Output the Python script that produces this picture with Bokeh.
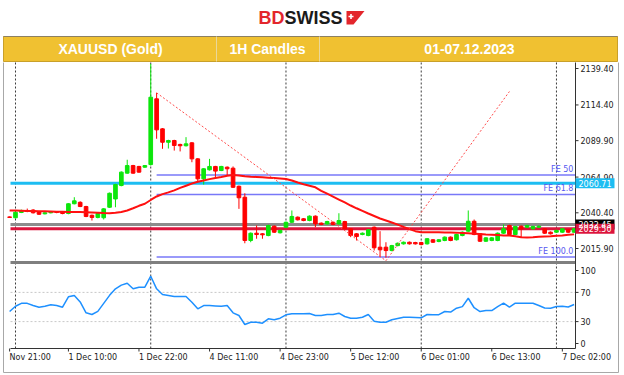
from bokeh.plotting import figure
from bokeh.models import Range1d
from bokeh.core.properties import value
from bokeh.embed import file_html
from bokeh.resources import INLINE

# ---------------- data (hourly bars, index 0 = 1 Dec 01:00) ----------------
bar_index = list(range(-1, 96))
open_ = [2037.6, 2037.0, 2040.6, 2042.0, 2042.3, 2041.0, 2039.7, 2040.4, 2040.8, 2040.9,
         2039.9, 2046.6, 2047.6, 2044.7, 2038.7, 2037.2, 2037.0, 2044.2, 2049.9, 2059.1,
         2067.6, 2072.8, 2072.2, 2071.7, 2073.5, 2118.6, 2098.0, 2088.8, 2090.0, 2087.3,
         2086.4, 2088.4, 2077.4, 2063.7, 2069.9, 2072.2, 2069.4, 2071.7, 2071.0, 2058.6,
         2051.1, 2021.4, 2026.4, 2026.0, 2024.8, 2031.2, 2026.7, 2030.5, 2033.9, 2037.4,
         2036.3, 2035.1, 2038.1, 2033.3, 2032.8, 2033.9, 2032.8, 2034.4, 2029.4, 2026.0,
         2025.5, 2024.8, 2030.5, 2016.8, 2016.8, 2014.5, 2017.9, 2019.1, 2020.2, 2020.0,
         2020.0, 2019.1, 2021.9, 2020.7, 2021.4, 2023.7, 2021.9, 2024.8, 2027.8, 2034.6,
         2026.0, 2020.9, 2021.4, 2021.4, 2026.4, 2031.7, 2025.5, 2031.2, 2030.5, 2029.4,
         2030.5, 2029.4, 2027.1, 2027.1, 2027.1, 2028.7, 2027.1]
high = [2037.9, 2041.3, 2042.6, 2043.3, 2042.9, 2041.5, 2040.9, 2041.4, 2041.3, 2041.4,
        2047.0, 2051.1, 2048.3, 2045.2, 2039.2, 2040.4, 2043.6, 2054.3, 2060.3, 2068.8,
        2076.8, 2073.3, 2072.6, 2073.2, 2142.5, 2122.7, 2098.5, 2090.5, 2090.5, 2087.8,
        2092.3, 2088.9, 2077.9, 2071.0, 2077.4, 2072.6, 2072.6, 2072.2, 2072.2, 2059.1,
        2053.8, 2026.9, 2031.7, 2026.4, 2032.2, 2031.7, 2028.8, 2034.4, 2042.0, 2037.9,
        2036.8, 2038.6, 2038.6, 2033.8, 2034.9, 2034.4, 2040.1, 2034.9, 2029.9, 2026.5,
        2026.9, 2029.2, 2031.0, 2027.8, 2020.2, 2018.4, 2020.0, 2020.7, 2020.7, 2020.5,
        2020.5, 2023.1, 2022.4, 2022.4, 2024.2, 2024.2, 2026.0, 2027.6, 2042.0, 2035.8,
        2026.5, 2023.7, 2023.7, 2026.9, 2032.4, 2032.2, 2031.5, 2031.7, 2032.2, 2031.5,
        2031.7, 2029.9, 2027.6, 2028.8, 2029.9, 2029.2, 2029.9]
low = [2036.9, 2036.5, 2040.2, 2040.8, 2039.9, 2038.9, 2039.3, 2040.0, 2040.1, 2039.4,
       2039.4, 2046.2, 2044.3, 2037.4, 2035.1, 2036.6, 2035.8, 2043.7, 2044.2, 2058.6,
       2067.2, 2067.2, 2067.9, 2071.3, 2072.8, 2091.2, 2084.3, 2084.5, 2083.1, 2082.5,
       2085.9, 2075.1, 2061.4, 2059.8, 2069.4, 2064.8, 2069.0, 2066.0, 2057.4, 2043.1,
       2019.5, 2020.2, 2022.6, 2022.6, 2024.3, 2026.6, 2026.2, 2030.0, 2033.4, 2035.1,
       2034.6, 2034.6, 2030.5, 2031.9, 2032.3, 2031.9, 2032.3, 2028.9, 2023.7, 2021.4,
       2025.0, 2024.3, 2014.5, 2010.0, 2009.6, 2014.0, 2017.4, 2018.6, 2018.6, 2018.6,
       2018.1, 2018.6, 2019.7, 2020.2, 2020.9, 2020.9, 2021.4, 2024.3, 2027.3, 2025.0,
       2020.4, 2020.4, 2020.9, 2020.9, 2025.9, 2025.0, 2025.0, 2023.7, 2030.0, 2028.9,
       2030.0, 2025.9, 2025.5, 2026.6, 2026.6, 2026.6, 2026.6]
close = [2037.2, 2040.8, 2042.0, 2041.3, 2040.4, 2039.4, 2040.4, 2040.9, 2040.6, 2039.9,
         2046.6, 2048.6, 2044.7, 2037.9, 2037.2, 2039.9, 2043.1, 2053.8, 2059.8, 2068.3,
         2072.8, 2067.6, 2068.3, 2072.8, 2119.7, 2097.3, 2088.8, 2090.0, 2086.6, 2086.4,
         2087.7, 2077.4, 2063.7, 2070.6, 2072.2, 2069.0, 2072.2, 2070.6, 2057.9, 2050.7,
         2021.4, 2026.4, 2025.5, 2025.3, 2031.7, 2027.1, 2028.3, 2033.9, 2037.9, 2035.6,
         2035.1, 2038.1, 2032.8, 2032.4, 2034.4, 2032.4, 2035.1, 2029.4, 2024.8, 2024.1,
         2026.4, 2028.7, 2016.4, 2015.0, 2014.5, 2017.9, 2019.5, 2020.2, 2019.1, 2019.1,
         2018.6, 2022.6, 2020.2, 2021.9, 2023.7, 2021.4, 2025.5, 2027.1, 2034.6, 2025.5,
         2020.9, 2023.2, 2023.2, 2026.4, 2029.4, 2025.5, 2031.0, 2029.4, 2031.7, 2031.0,
         2031.2, 2026.4, 2026.0, 2028.3, 2029.4, 2027.1, 2029.5]
moving_avg = [2042.0, 2041.9, 2041.8, 2041.7, 2041.6, 2041.5, 2041.4, 2041.3, 2041.2, 2041.1,
              2041.0, 2041.0, 2040.9, 2040.8, 2040.6, 2040.4, 2040.2, 2040.1, 2040.4, 2041.0,
              2042.0, 2043.5, 2045.2, 2046.6, 2049.2, 2051.6, 2053.2, 2054.4, 2055.8, 2057.5,
              2059.0, 2060.5, 2061.7, 2062.6, 2063.5, 2064.3, 2065.0, 2065.8, 2066.4, 2066.0,
              2065.5, 2065.2, 2065.0, 2064.8, 2064.5, 2064.2, 2063.9, 2063.6, 2062.6, 2061.2,
              2060.0, 2058.9, 2057.9, 2055.5, 2053.5, 2051.5, 2049.5, 2047.5, 2045.4, 2043.5,
              2041.7, 2039.9, 2038.2, 2036.5, 2035.1, 2033.7, 2032.3, 2030.7, 2029.2, 2027.8,
              2027.1, 2027.0, 2027.0, 2027.0, 2026.9, 2026.9, 2026.8, 2026.6, 2026.4, 2026.1,
              2025.8, 2025.5, 2025.3, 2025.1, 2024.9, 2024.8, 2024.3, 2023.6, 2023.4, 2023.6,
              2023.9, 2024.1, 2024.3, 2024.6, 2024.9, 2025.3, 2025.6]
rsi = [43.8, 51, 55, 55, 52, 49.7, 51, 53, 52, 49.7,
       64, 65.8, 57, 42, 39.7, 44, 55, 66, 74.9, 80,
       82.6, 75, 77.1, 77.1, 92.2, 74.9, 67.1, 65.8, 64.4, 64.4,
       64.4, 56.6, 47.5, 52, 52, 51.5, 51, 52, 42, 38.4,
       26, 29.2, 29.2, 27.8, 33.8, 32.5, 34.7, 39.3, 40.7, 40.7,
       40.7, 41, 38.4, 38.4, 39.7, 39.7, 41.5, 37, 34.7, 34.7,
       36, 39.7, 30.5, 29.2, 29.2, 32.5, 34.3, 36, 36, 35.6,
       35.2, 39.7, 39.3, 39.5, 43.8, 43, 48.4, 50.5, 62, 49,
       43.8, 45.2, 45.2, 50.5, 55.2, 49.7, 55.2, 55.2, 55.2, 55.2,
       52, 48.6, 48.4, 50.7, 51, 50, 53.4]

price_ticks = [2015.90, 2040.40, 2064.90, 2089.90, 2114.40, 2139.40]
rsi_ticks = [0, 30, 70, 100]
rsi_levels = [30, 70]
time_tick_index = [-1, 9, 21, 33, 45, 57, 69, 81, 93]
time_labels = ["Nov 21:00", "1 Dec 10:00", "1 Dec 22:00", "4 Dec 11:00", "4 Dec 23:00",
               "5 Dec 12:00", "6 Dec 01:00", "6 Dec 13:00", "7 Dec 02:00"]
day_starts = [0, 23, 46, 69, 92]

level_cyan = 2060.71
level_gray = 2032.45
level_red = 2029.50
level_support = 2006.3
fe_levels = [2066.3, 2053.0, 2010.0]
fe_names = ["FE 50", "FE 61.8", "FE 100.0"]
fe_start = 24
zigzag_index = [24, 63, 84]
zigzag_price = [2122.7, 2007.5, 2123.6]

header_texts = ["XAUUSD (Gold)", "1H Candles", "01-07.12.2023"]

# ---------------- page layout (pixels) ----------------
W, H = 624, 375
BAR0_PX, BAR_PX = 15.0, 5.88          # x of bar 0 and bar spacing
FRAME_L, FRAME_R = 10, 575            # chart area left/right
MAIN_TOP, MAIN_BOT = 62, 263
RSI_TOP, RSI_BOT = 265, 348
PRICE_ANCHOR, PRICE_ANCHOR_PX, PRICE_PX = 2139.4, 68.0, 1.4576
RSI_ANCHOR_PX, RSI_PX = 270.0, 0.73    # y of RSI 100, px per RSI unit

x_start = (0 - BAR0_PX) / BAR_PX
x_end = (W - BAR0_PX) / BAR_PX
x_left = (FRAME_L - BAR0_PX) / BAR_PX
x_right = (FRAME_R - BAR0_PX) / BAR_PX
price_top = PRICE_ANCHOR + PRICE_ANCHOR_PX / PRICE_PX
price_bot = PRICE_ANCHOR - (H - PRICE_ANCHOR_PX) / PRICE_PX
rsi_top = 100 + RSI_ANCHOR_PX / RSI_PX
rsi_bot = 100 - (H - RSI_ANCHOR_PX) / RSI_PX

GREEN = "#0CE60C"
RED = "#FF0000"
AXIS_FONT = value("DejaVu Sans")
AX_COLOR = "#333333"

p = figure(width=W, height=H, x_range=Range1d(x_start, x_end), y_range=Range1d(price_bot, price_top),
           output_backend="svg", toolbar_location=None,
           x_axis_location=None, y_axis_location=None, min_border=0)
p.extra_x_ranges = {"px": Range1d(0, W)}
p.extra_y_ranges = {"py": Range1d(H, 0), "rsi": Range1d(rsi_bot, rsi_top)}
p.grid.visible = False
p.outline_line_color = None

# outer cell border
p.line(x=[3, 3, 618, 618], y=[62, 372, 372, 62], x_range_name="px", y_range_name="py",
       line_color="#A8A8A8", line_width=1)

# day separators (both panels)
p.segment(x0=day_starts, x1=day_starts, y0=[MAIN_TOP] * len(day_starts), y1=[RSI_BOT] * len(day_starts),
          y_range_name="py", line_color="#3C3C3C", line_width=1, line_dash="2 2")

# RSI 30/70 levels
p.segment(x0=[x_left] * 2, x1=[x_right] * 2, y0=rsi_levels, y1=rsi_levels, y_range_name="rsi",
          line_color="#C8C8C8", line_width=1, line_dash="2 2")

# horizontal price levels
lv = [level_support, level_gray, level_red, level_cyan]
lc = ["#7F7F7F", "#8C8C8C", "#DC143C", "#1CBDF2"]
p.segment(x0=[x_left] * 4, x1=[x_right] * 4, y0=lv, y1=lv, line_color=lc, line_width=3)

# Fibonacci expansion lines
p.segment(x0=[fe_start] * 3, x1=[x_right] * 3, y0=fe_levels, y1=fe_levels,
          line_color="#7878F8", line_width=1.5)
p.text(x=[x_right - 0.35] * 3, y=fe_levels, text=fe_names, text_color="#5858F0",
       text_font=AXIS_FONT, text_font_size="8px", text_align="right", text_baseline="bottom",
       y_offset=-1)

# candles
tops = [max(a, b) for a, b in zip(open_, close)]
bots = [min(a, b) for a, b in zip(open_, close)]
cols = [GREEN if c >= o else RED for o, c in zip(open_, close)]
p.segment(x0=bar_index, y0=high, x1=bar_index, y1=low, line_color=cols, line_width=1)
p.vbar(x=bar_index, top=tops, bottom=bots, width=0.62, fill_color=cols, line_color=cols)

# moving average and zigzag
p.line(bar_index, moving_avg, line_color="#FF1010", line_width=2)
p.line(zigzag_index, zigzag_price, line_color="#FF4D4D", line_width=1, line_dash="2 2")

# RSI
p.line(bar_index, rsi, y_range_name="rsi", line_color="#1E90FF", line_width=1.5)

# axes lines
p.segment(x0=[FRAME_R], x1=[FRAME_R], y0=[MAIN_TOP], y1=[RSI_BOT], x_range_name="px",
          y_range_name="py", line_color=AX_COLOR, line_width=1)
p.segment(x0=[x_left], x1=[x_right], y0=[RSI_BOT], y1=[RSI_BOT], y_range_name="py",
          line_color=AX_COLOR, line_width=1)

# price axis ticks + labels
p.segment(x0=[FRAME_R] * len(price_ticks), x1=[FRAME_R + 3] * len(price_ticks), y0=price_ticks,
          y1=price_ticks, x_range_name="px", line_color=AX_COLOR)
p.text(x=[FRAME_R + 5] * len(price_ticks), y=price_ticks, text=["%.2f" % t for t in price_ticks],
       x_range_name="px", text_font=AXIS_FONT, text_font_size="8px", text_color="#222222",
       text_align="left", text_baseline="middle")
# RSI axis ticks + labels
p.segment(x0=[FRAME_R] * 4, x1=[FRAME_R + 3] * 4, y0=rsi_ticks, y1=rsi_ticks,
          x_range_name="px", y_range_name="rsi", line_color=AX_COLOR)
p.text(x=[FRAME_R + 5] * 4, y=rsi_ticks, text=[str(t) for t in rsi_ticks],
       x_range_name="px", y_range_name="rsi", text_font=AXIS_FONT, text_font_size="8px",
       text_color="#222222", text_align="left", text_baseline="middle")
# time axis ticks + labels
n = len(time_tick_index)
p.segment(x0=time_tick_index, x1=time_tick_index, y0=[RSI_BOT] * n, y1=[RSI_BOT + 3] * n,
          y_range_name="py", line_color=AX_COLOR)
p.text(x=time_tick_index, y=[RSI_BOT + 9] * n, text=time_labels, y_range_name="py",
       text_font=AXIS_FONT, text_font_size="8px", text_color="#222222",
       text_align="left", text_baseline="middle")

# current-value boxes on the price axis
box_lv = [level_gray, level_cyan, level_red]
box_col = ["#000000", "#1CBDF2", "#DC143C"]
p.rect(x=[FRAME_R + 19.5] * 3, y=box_lv, width=39, height=10, width_units="screen",
       height_units="screen", x_range_name="px", fill_color=box_col, line_color=None)
p.text(x=[FRAME_R + 19.5] * 3, y=box_lv, text=["%.2f" % v for v in box_lv], x_range_name="px",
       text_font=AXIS_FONT, text_font_size="8px", text_color="white",
       text_align="center", text_baseline="middle")

# header: logo and title bar
p.text(x=[258], y=[17], text=["BD"], x_range_name="px", y_range_name="py", text_color="#E3262C",
       text_font=value("Liberation Sans"), text_font_style="bold", text_font_size="18px",
       text_baseline="middle", text_align="left")
p.text(x=[284], y=[17], text=["SWISS"], x_range_name="px", y_range_name="py", text_color="#1A1A1A",
       text_font=value("Liberation Sans"), text_font_style="bold", text_font_size="18px",
       text_baseline="middle", text_align="left")
p.patch(x=[346, 364, 353, 346], y=[10.5, 10.5, 24, 24], x_range_name="px", y_range_name="py",
        fill_color="#E3262C", line_color=None)
p.rect(x=[350.5, 350.5], y=[16, 16], width=[5, 1.6], height=[1.6, 5], x_range_name="px",
       y_range_name="py", fill_color="white", line_color=None)
p.quad(left=[3], right=[617], top=[36], bottom=[61], x_range_name="px", y_range_name="py",
       fill_color="#F0C131", line_color="#C9A02A")
p.segment(x0=[3], y0=[36], x1=[617], y1=[36], x_range_name="px", y_range_name="py",
          line_color="#8C8063", line_width=1)
p.segment(x0=[216, 319], y0=[36, 36], x1=[216, 319], y1=[61, 61], x_range_name="px",
          y_range_name="py", line_color="#E9D79A", line_width=1)
p.text(x=[110, 267, 469], y=[48.5] * 3, text=header_texts, x_range_name="px", y_range_name="py",
       text_color="white", text_font=value("Liberation Sans"), text_font_style="bold",
       text_font_size="14px", text_baseline="middle", text_align="center")

open("out.html", "w").write(file_html(p, INLINE))
